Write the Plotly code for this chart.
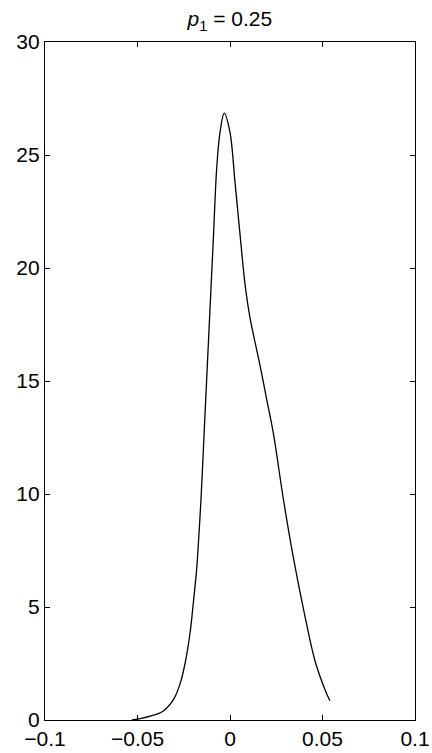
import plotly.graph_objects as go

x_vals = [-0.053, -0.048, -0.0432, -0.0362, -0.0306, -0.027, -0.0243, -0.0216, -0.0198, -0.018,
          -0.0168, -0.0157, -0.0141, -0.0130,
          -0.0108, -0.0090, -0.0072, -0.0054, -0.0031, 0.0000, 0.0027, 0.0054, 0.0081,
          0.0108, 0.0162, 0.0198, 0.0234, 0.0288, 0.034, 0.040, 0.046, 0.0514, 0.054]
y_vals = [0.0, 0.07, 0.17, 0.39, 0.9, 1.6, 2.5, 3.85, 5.2, 6.7,
          8.2, 9.73, 12.5, 14.4,
          18.2, 21.3, 24.4, 26.0, 26.85, 26.0, 23.8, 21.5, 19.3,
          17.8, 15.7, 14.2, 12.7, 9.8, 7.3, 4.8, 2.6, 1.33, 0.85]

x_ticks = [-0.1, -0.05, 0, 0.05, 0.1]
x_tick_text = ["\u22120.1", "\u22120.05", "0", "0.05", "0.1"]
y_ticks = [0, 5, 10, 15, 20, 25, 30]

fig = go.Figure()
fig.add_trace(go.Scatter(x=x_vals, y=y_vals, mode="lines",
                         line=dict(color="black", width=1.3, shape="spline", smoothing=1.0),
                         showlegend=False, hoverinfo="skip"))

font = dict(family="Liberation Sans, Arial, Helvetica, sans-serif", size=21, color="black")
axis_common = dict(showgrid=False, zeroline=False, showline=True, linecolor="black",
                   linewidth=1.3, mirror="ticks", ticks="inside", ticklen=5,
                   tickcolor="black", tickwidth=1, tickfont=font, automargin=False)

fig.update_layout(
    width=432, height=753,
    margin=dict(l=45, r=17, t=42, b=33),
    paper_bgcolor="white", plot_bgcolor="white",
    title=dict(text="<i>p</i><sub>1</sub> = 0.25", x=0.532, xanchor="center",
               y=0.975, yanchor="middle", font=font, automargin=False),
    xaxis=dict(range=[-0.1, 0.1], tickvals=x_ticks, ticktext=x_tick_text, **axis_common),
    yaxis=dict(range=[0, 30], tickvals=y_ticks, **axis_common),
)

fig.write_html("out.html", config={"displayModeBar": False},
               post_script="document.body.style.margin='0';document.body.style.overflow='hidden';")
